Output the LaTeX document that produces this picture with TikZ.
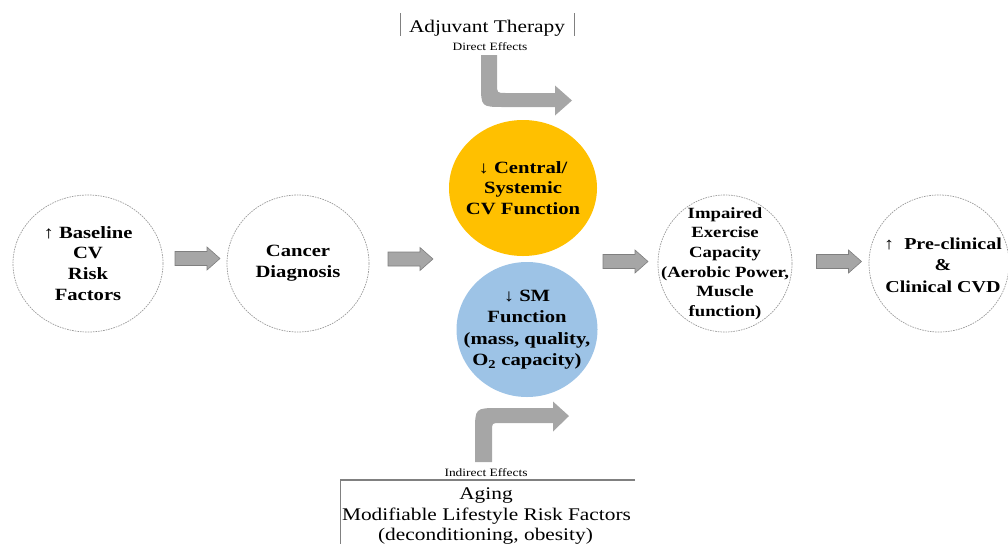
\documentclass[tikz,border=0pt]{standalone}
\usepackage{fontspec}
\setmainfont{Liberation Serif}[FakeStretch=1.2]
\usetikzlibrary{shapes.geometric,calc}

\definecolor{gold}{HTML}{FFC000}
\definecolor{skyblue}{HTML}{9DC3E6}
\definecolor{arrowfill}{HTML}{A6A6A6}
\definecolor{arrowline}{HTML}{7F7F7F}
\definecolor{ringline}{HTML}{9A9A9A}
\definecolor{frameline}{HTML}{808080}

\tikzset{
  stage/.style={ellipse, inner sep=0pt, draw=ringline, line width=0.7pt,
    dash pattern=on 1.6pt off 1pt},
  effect/.style={ellipse, inner sep=0pt},
  stagetext/.style={align=center, inner sep=0pt,
    font=\bfseries\fontsize{17.2}{20.8}\selectfont},
  bodytext/.style={anchor=base, inner sep=0pt, font=\fontsize{17.8}{21}\selectfont},
  effectlabel/.style={anchor=base, inner sep=0pt, font=\fontsize{11.2}{13}\selectfont},
  blockarrow/.pic={
    \filldraw[fill=arrowfill, draw=arrowline, line width=0.6pt]
      (-22.5,-7) -- (9.5,-7) -- (9.5,-11.5) -- (22.5,0) -- (9.5,11.5)
      -- (9.5,7) -- (-22.5,7) -- cycle;
  },
}

\begin{document}
\begin{tikzpicture}[x=1pt, y=-1pt]
  \useasboundingbox (0,0) rectangle (1008,544);

  % stages of the pathway
  \node[stage, minimum width=150pt, minimum height=137pt] (risk) at (88,263.5) {};
  \node[stagetext] (risk-t) at (risk) {↑ Baseline\\CV\\Risk\\Factors};

  \node[stage, minimum width=142pt, minimum height=137pt] (diag) at (298,263.5) {};
  \node[stagetext] (diag-t) at (diag) {Cancer\\Diagnosis};

  \node[effect, fill=gold, minimum width=148pt, minimum height=136pt] (central) at (523,188) {};
  \node[stagetext] (central-t) at (central) {↓ Central/\\Systemic\\CV Function};

  \node[effect, fill=skyblue, minimum width=141pt, minimum height=135pt] (sm) at (527,329.5) {};
  \node[stagetext, font=\bfseries\fontsize{17.2}{21.5}\selectfont] (sm-t) at (sm)
    {↓ SM\\Function\\(mass, quality,\\O\textsubscript{2} capacity)};

  \node[stage, minimum width=134pt, minimum height=137pt] (exercise) at (725,263.5) {};
  \node[stagetext, font=\bfseries\fontsize{15.6}{19.7}\selectfont] (exercise-t) at (exercise)
    {Impaired\\Exercise\\Capacity\\(Aerobic Power,\\Muscle\\function)};

  \node[stage, minimum width=140pt, minimum height=137pt] (cvd) at (939,263.5) {};
  \node[stagetext, font=\bfseries\fontsize{16.7}{21.5}\selectfont] (cvd-t) at (943,265)
    {↑\hspace{0.6em}Pre-clinical\\\&\\Clinical CVD};

  % block arrows between stages
  \pic at (197.5,258.5) {blockarrow};
  \pic at (410.5,259) {blockarrow};
  \pic at (625.5,261.5) {blockarrow};
  \pic at (839,261.5) {blockarrow};

  % adjuvant therapy (direct effects)
  \node[bodytext] (therapy) at (487,32) {Adjuvant Therapy};
  \draw[frameline, line width=0.8pt] (400,13) -- (400,36);
  \draw[frameline, line width=0.8pt] (574,13) -- (574,36);
  \node[effectlabel] (direct) at (490,50) {Direct Effects};
  \fill[arrowfill] (481,55) -- (481,84) .. controls (481,107) .. (504,107)
    -- (555,107) -- (555,115.5) -- (572,100.5) -- (555,85.5) -- (555,93)
    -- (506,93) .. controls (497,93) .. (497,84) -- (497,55) -- cycle;

  % indirect effects
  \fill[arrowfill] (475,462) -- (475,432) .. controls (475,408) .. (499,408)
    -- (553,408) -- (553,401.5) -- (569,416) -- (553,431.5) -- (553,423)
    -- (500,423) .. controls (492,423) .. (492,431) -- (492,462) -- cycle;
  \node[effectlabel] (indirect) at (486,476) {Indirect Effects};
  \draw[frameline, line width=1.2pt] (635,480) -- (340,480);
  \draw[frameline, line width=0.6pt] (340,480) -- (340,544);
  \node[bodytext] (aging) at (486,499) {Aging};
  \node[bodytext] (lifestyle) at (486.5,520) {Modifiable Lifestyle Risk Factors};
  \node[bodytext] (examples) at (485.5,540) {(deconditioning, obesity)};
\end{tikzpicture}
\end{document}
